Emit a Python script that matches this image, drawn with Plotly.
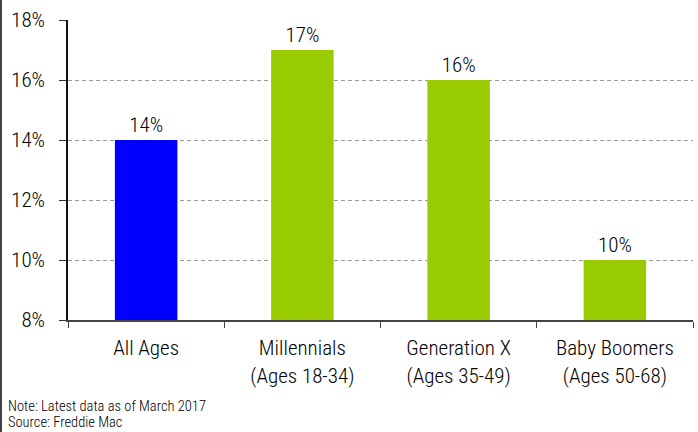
import plotly.graph_objects as go

categories = ["All Ages", "Millennials<br>(Ages 18-34)", "Generation X<br>(Ages 35-49)", "Baby Boomers<br>(Ages 50-68)"]
values = [14, 17, 16, 10]
colors = ["#0000FF", "#99CC00", "#99CC00", "#99CC00"]
labels = [f"{v}%" for v in values]
note_lines = ["Note: Latest data as of March 2017", "Source: Freddie Mac"]

FONT = "Roboto Condensed, Arial Narrow, sans-serif"
TXT = "#000"
W, H = 698, 432
L, R, T, B = 68, 5, 20, 112

fig = go.Figure(go.Bar(
    x=categories, y=values, marker_color=colors, marker_line_width=0,
    text=labels, textposition="outside", cliponaxis=False,
    textfont=dict(size=21, color=TXT, weight=300), width=0.4,
))

pw = W - L - R
ph = H - T - B
fig.update_layout(
    width=W, height=H, margin=dict(l=L, r=R, t=T, b=B),
    paper_bgcolor="white", plot_bgcolor="white",
    font=dict(family=FONT, size=21, color=TXT, weight=300),
    showlegend=False, bargap=0.6,
    xaxis=dict(showline=True, linecolor="#444", linewidth=2, ticks="outside",
               tickson="boundaries", ticklen=6, tickcolor="#444", showgrid=False,
               ticklabelstandoff=8,
               automargin=False, tickfont=dict(size=21, color=TXT, weight=300)),
    yaxis=dict(range=[8, 18], dtick=2, ticksuffix="%", showline=True, linecolor="#111",
               linewidth=1.5, ticks="outside", ticklen=7, tickcolor="#333",
               gridcolor="#999", griddash="4px,3px", gridwidth=1, zeroline=False,
               ticklabelstandoff=10,
               automargin=False, tickfont=dict(size=21, color=TXT, weight=300)),
    annotations=[
        dict(text=note_lines[0], xref="paper", yref="paper", x=-(L - 6) / pw, y=-(B - 15) / ph,
             xanchor="left", yanchor="bottom", align="left", showarrow=False,
             font=dict(size=14.5, color=TXT, weight=300)),
        dict(text=note_lines[1], xref="paper", yref="paper", x=-(L - 6) / pw, y=-(B + 1) / ph,
             xanchor="left", yanchor="bottom", align="left", showarrow=False,
             font=dict(size=14.5, color=TXT, weight=300)),
    ],
    shapes=[dict(type="line", xref="paper", yref="paper", x0=-(L - 1) / pw, x1=-(L - 1) / pw,
                 y0=-B / ph, y1=1 + T / ph, line=dict(color="#444", width=2))],
)
fig.write_html("out.html", config={"displayModeBar": False},
               post_script="document.body.style.margin='0';document.body.style.overflow='hidden';")
